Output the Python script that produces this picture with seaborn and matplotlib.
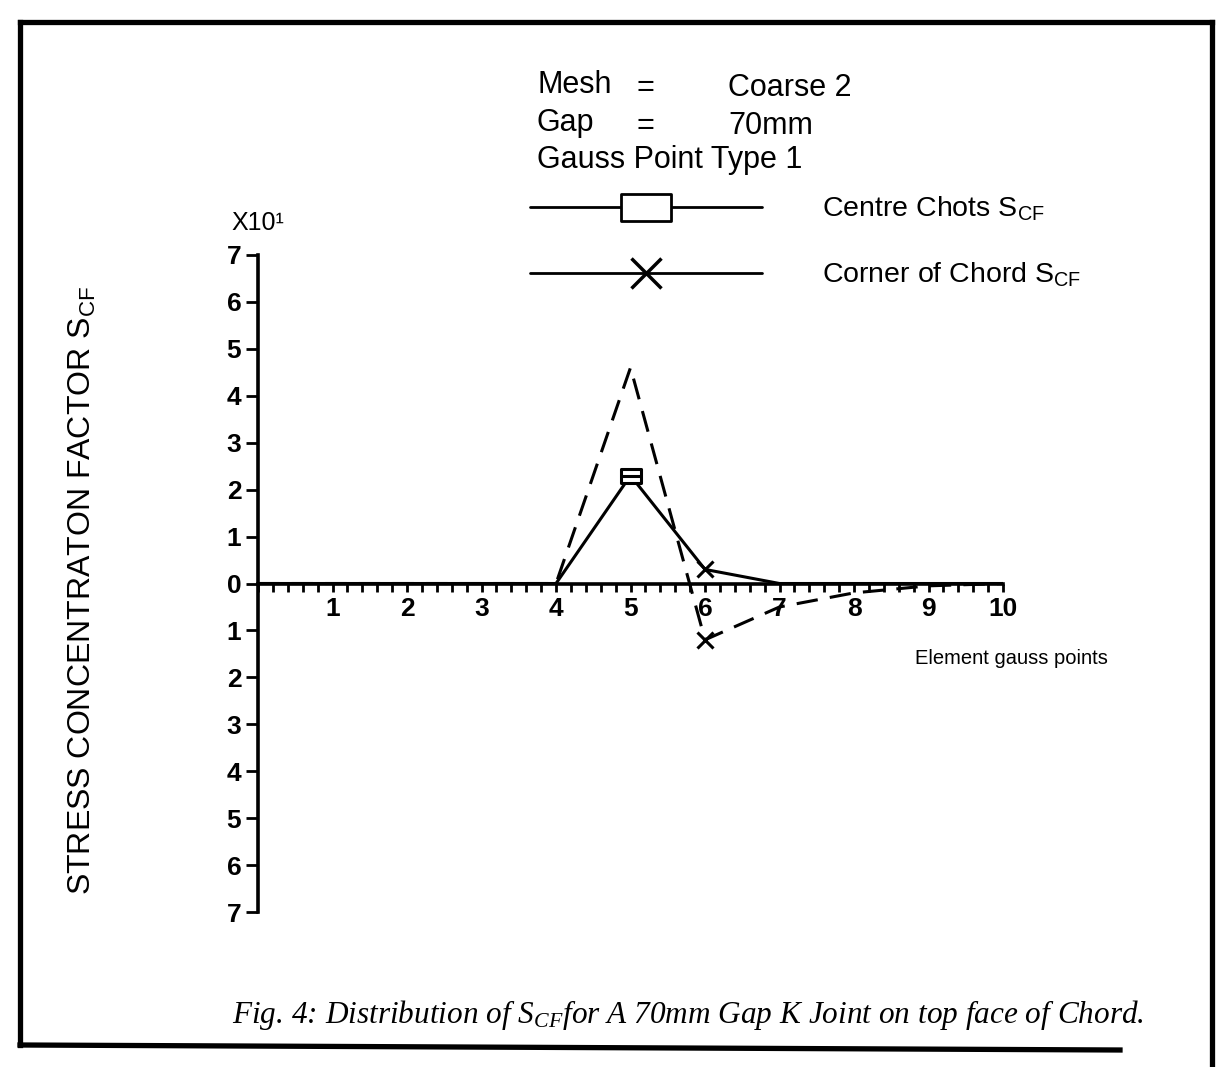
import matplotlib
matplotlib.use("Agg")
import matplotlib.pyplot as plt
from matplotlib.lines import Line2D
from matplotlib.path import Path
from matplotlib.ticker import FixedLocator, MultipleLocator
import pandas as pd
import seaborn as sns

# element gauss points (x) and stress concentration factor, units of 10^1
gauss_points = [0, 1, 2, 3, 4, 5, 6, 7, 8, 9, 10]
centre_scf = [0, 0, 0, 0, 0, 2.3, 0.3, 0, 0, 0, 0]
corner_scf = [0, 0, 0, 0, 0, 4.6, -1.2, -0.5, -0.2, -0.05, 0]

# which gauss points carry a symbol
centre_box_at = [5]
centre_cross_at = [6]
corner_cross_at = [6]

x_ticks = [1, 2, 3, 4, 5, 6, 7, 8, 9, 10]
x_tick_labels = ["1", "2", "3", "4", "5", "6", "7", "8", "9", "10"]
y_ticks = [-7, -6, -5, -4, -3, -2, -1, 0, 1, 2, 3, 4, 5, 6, 7]
y_tick_labels = ["7", "6", "5", "4", "3", "2", "1", "0", "1", "2", "3", "4", "5", "6", "7"]

header_keys = ["Mesh", "Gap"]
header_vals = ["Coarse 2", "70mm"]
header_note = "Gauss Point Type 1"
series_labels = [r"Centre Chots S$_{\mathregular{CF}}$", r"Corner of Chord S$_{\mathregular{CF}}$"]
caption = r"Fig. 4: Distribution of S$_{\mathregular{CF}}$for A 70mm Gap K Joint on top face of Chord."

sns.set_theme(style="ticks")
plt.rcParams["font.family"] = ["Liberation Sans", "DejaVu Sans"]
plt.rcParams["mathtext.default"] = "regular"
plt.rcParams["text.color"] = "black"
plt.rcParams["axes.labelcolor"] = "black"

W, H = 1228, 1067
fig = plt.figure(figsize=(W / 100, H / 100), dpi=100)
fig.patch.set_facecolor("white")


def fx(px):
    return px / W


def fy(py):
    return 1 - py / H


ax = fig.add_axes([fx(258), fy(912), fx(1003) - fx(258), fy(255) - fy(912)])
ax.set_facecolor("none")

df = pd.DataFrame({
    "gauss": gauss_points * 2,
    "scf": centre_scf + corner_scf,
    "series": ["centre"] * len(gauss_points) + ["corner"] * len(gauss_points),
})
sns.lineplot(data=df, x="gauss", y="scf", style="series",
             dashes={"centre": "", "corner": (7, 4)},
             color="black", lw=2.2, legend=False, sort=False, ax=ax)

# box with a bar through it
box_mark = Path([(-1, -0.7), (1, -0.7), (1, 0.7), (-1, 0.7), (-1, -0.7), (-1, 0), (1, 0)],
                [Path.MOVETO, Path.LINETO, Path.LINETO, Path.LINETO, Path.CLOSEPOLY,
                 Path.MOVETO, Path.LINETO])
legend_box = Path([(-1, -0.54), (1, -0.54), (1, 0.54), (-1, 0.54), (-1, -0.54)],
                  [Path.MOVETO, Path.LINETO, Path.LINETO, Path.LINETO, Path.CLOSEPOLY])

bx = [g for g in gauss_points if g in centre_box_at]
by = [centre_scf[gauss_points.index(g)] for g in bx]
ax.plot(bx, by, ls="none", marker=box_mark, ms=15, mfc="white", mec="black", mew=2.2, zorder=5)

cx = [g for g in gauss_points if g in centre_cross_at]
cy = [centre_scf[gauss_points.index(g)] for g in cx]
ax.plot(cx, cy, ls="none", marker="x", ms=11, mec="black", mew=2.2, zorder=5)

kx = [g for g in gauss_points if g in corner_cross_at]
ky = [corner_scf[gauss_points.index(g)] for g in kx]
ax.plot(kx, ky, ls="none", marker="x", ms=11, mec="black", mew=2.2, zorder=5)

# axes through the origin
ax.set_xlim(0, 10)
ax.set_ylim(-7, 7)
ax.spines["bottom"].set_position(("data", 0))
ax.spines[["top", "right"]].set_visible(False)
for s in ["left", "bottom"]:
    ax.spines[s].set_linewidth(2.6)
    ax.spines[s].set_color("black")

ax.xaxis.set_major_locator(FixedLocator(x_ticks))
ax.set_xticklabels(x_tick_labels)
ax.xaxis.set_minor_locator(MultipleLocator(0.2))
ax.tick_params(axis="x", which="both", bottom=True, direction="out",
               length=6, width=2, pad=4, labelsize=19, colors="black")
ax.set_yticks(y_ticks)
ax.set_yticklabels(y_tick_labels)
ax.tick_params(axis="y", left=True, direction="out", length=9, width=2,
               pad=3, labelsize=19, colors="black")
for t in ax.get_xticklabels() + ax.get_yticklabels():
    t.set_fontweight("bold")

ax.set_xlabel("Element gauss points", fontsize=14.5)
ax.xaxis.set_label_coords(1.011, 0.40)
ax.set_ylabel(r"STRESS CONCENTRATON FACTOR S$_{\mathregular{CF}}$", fontsize=23)
ax.yaxis.set_label_coords(-0.215, 0.49)
ax.text(0.0, 1.048, "X10¹", transform=ax.transAxes, ha="center", va="center", fontsize=18)

# header block and legend
for i, (k, v) in enumerate(zip(header_keys, header_vals)):
    y = [85, 123][i]
    fig.text(fx(537), fy(y), k, fontsize=22, va="center", ha="left")
    fig.text(fx(636), fy(y + 3), "=", fontsize=22, va="center", ha="left")
    fig.text(fx(728), fy(y + 3), v, fontsize=22, va="center", ha="left")
fig.text(fx(537), fy(160), header_note, fontsize=22, va="center", ha="left")

handles = [
    Line2D([], [], color="black", lw=2, marker=legend_box, ms=36, mfc="white", mec="black", mew=2),
    Line2D([], [], color="black", lw=2, marker="x", ms=22, mec="black", mew=2.5),
]
ax.legend(handles, series_labels, loc="upper left", bbox_to_anchor=(fx(530), fy(195)),
          bbox_transform=fig.transFigure, frameon=False, fontsize=20.5,
          handlelength=8.15, handletextpad=2.1, labelspacing=1.3,
          borderpad=0, borderaxespad=0)

fig.text(fx(232), fy(1015), caption, fontsize=22.5, va="center", ha="left",
         family=["Liberation Serif", "DejaVu Serif"], style="italic")

# page frame
frame = [((20, 22), (20, 1045)), ((20, 22), (1212, 22)), ((1212, 22), (1212, 1067)),
         ((20, 1045), (1120, 1050))]
for (x0, y0), (x1, y1) in frame:
    fig.add_artist(Line2D([fx(x0), fx(x1)], [fy(y0), fy(y1)], transform=fig.transFigure,
                          color="black", lw=3.8, solid_capstyle="projecting"))

fig.savefig("out.png", dpi=100, facecolor="white")
